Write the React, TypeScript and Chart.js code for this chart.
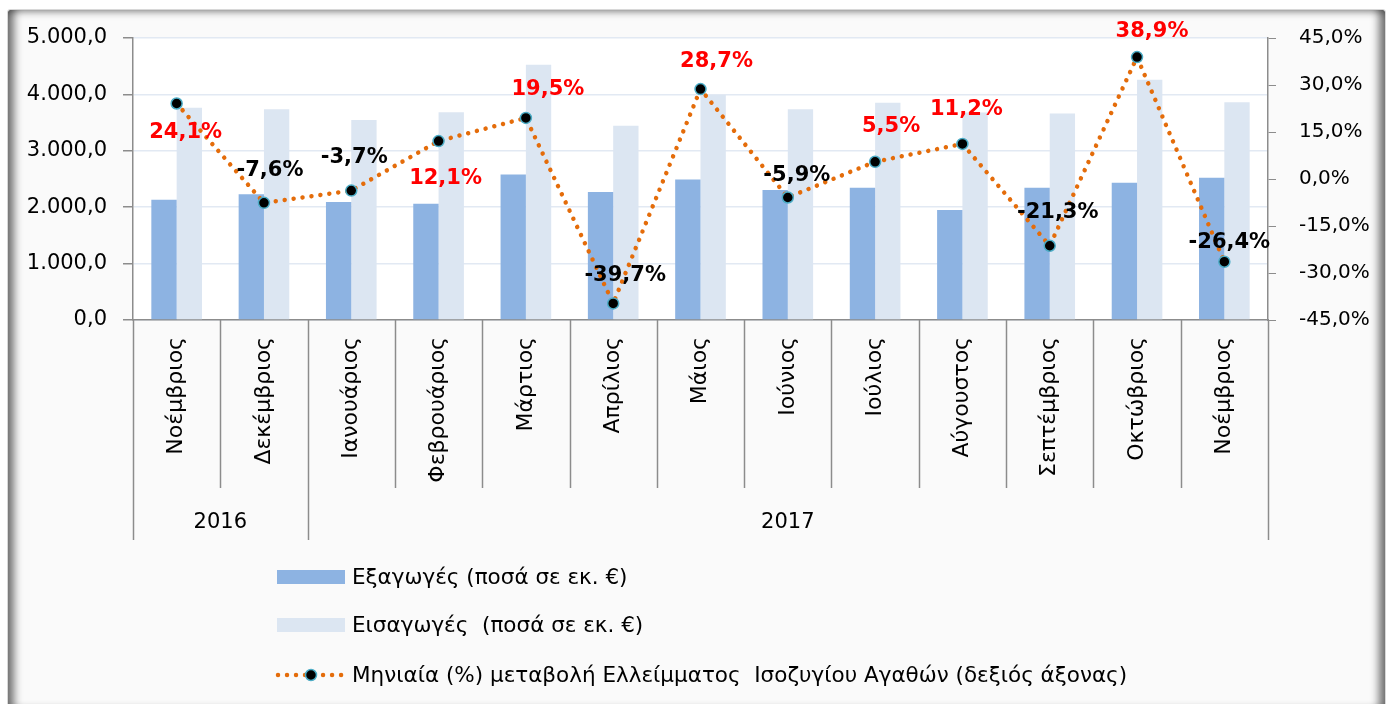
import React, { useEffect, useRef } from "react";
import { Chart, registerables } from "chart.js";

Chart.register(...registerables);

// ---- data ----
const months = [
  "Νοέμβριος", "Δεκέμβριος", "Ιανουάριος", "Φεβρουάριος", "Μάρτιος", "Απρίλιος",
  "Μάιος", "Ιούνιος", "Ιούλιος", "Αύγουστος", "Σεπτέμβριος", "Οκτώβριος", "Νοέμβριος",
];
const yearLabels = ["2016", "2017"];
const yearSpans = [2, 11];
const exportsValues = [2130, 2230, 2090, 2060, 2580, 2270, 2490, 2305, 2345, 1950, 2345, 2435, 2520];
const importsValues = [3765, 3735, 3545, 3685, 4525, 3445, 3990, 3735, 3850, 3680, 3660, 4260, 3860];
const deficitChange = [24.1, -7.6, -3.7, 12.1, 19.5, -39.7, 28.7, -5.9, 5.5, 11.2, -21.3, 38.9, -26.4];
const legendLabels = [
  "Εξαγωγές (ποσά σε εκ. €)",
  "Εισαγωγές  (ποσά σε εκ. €)",
  "Μηνιαία (%) μεταβολή Ελλείμματος  Ισοζυγίου Αγαθών (δεξιός άξονας)",
];

// ---- styles / placement (not data) ----
const FONT = "'DejaVu Sans', sans-serif";
const EXPORT_COLOR = "#8DB3E2";
const IMPORT_COLOR = "#DCE6F2";
const LINE_COLOR = "#E46C0A";
const MARKER_BORDER = "#4BACC6";
const labelOffsets: [number, number][] = [
  [9, 29], [6, -32], [3, -33], [7, 37], [22, -28], [12, -28], [16, -28],
  [9, -22], [16, -35], [4, -34], [8, -33], [15, -26], [5, -19],
];

const fmtLeft = (v: number) => {
  const s = Math.round(v).toString().replace(/\B(?=(\d{3})+(?!\d))/g, ".");
  return s + ",0";
};
const fmtPct = (v: number) => v.toFixed(1).replace(".", ",") + "%";

const plotBg = {
  id: "plotBg",
  beforeDraw(chart: any) {
    const { ctx, chartArea } = chart;
    ctx.save();
    ctx.fillStyle = "#ffffff";
    ctx.fillRect(chartArea.left, chartArea.top, chartArea.right - chartArea.left, chartArea.bottom - chartArea.top);
    ctx.restore();
  },
};

const twoLevelAxis = {
  id: "twoLevelAxis",
  afterDraw(chart: any) {
    const { ctx, chartArea } = chart;
    const x = chart.scales.x;
    const n = months.length;
    const half = (x.getPixelForValue(1) - x.getPixelForValue(0)) / 2;
    const b = chartArea.bottom;
    const innerDepth = 168;
    const outerDepth = 220;
    const groupBounds = new Set<number>([0]);
    let acc = 0;
    yearSpans.forEach((s) => {
      acc += s;
      groupBounds.add(acc);
    });
    ctx.save();
    ctx.strokeStyle = "#8c8c8c";
    ctx.lineWidth = 1.5;
    for (let i = 0; i <= n; i++) {
      const px = Math.round(x.getPixelForValue(i) - half) + 0.5;
      const depth = groupBounds.has(i) ? outerDepth : innerDepth;
      ctx.beginPath();
      ctx.moveTo(px, b);
      ctx.lineTo(px, b + depth);
      ctx.stroke();
    }
    ctx.fillStyle = "#000";
    ctx.font = `21px ${FONT}`;
    ctx.textAlign = "center";
    ctx.textBaseline = "middle";
    let start = 0;
    yearLabels.forEach((lab, k) => {
      const end = start + yearSpans[k];
      const l = x.getPixelForValue(start) - half;
      const r = x.getPixelForValue(end - 1) + half;
      ctx.fillText(lab, (l + r) / 2, b + 203);
      start = end;
    });
    ctx.restore();
  },
};

const dataLabels = {
  id: "dataLabels",
  afterDatasetsDraw(chart: any) {
    const { ctx } = chart;
    const meta = chart.getDatasetMeta(2);
    ctx.save();
    ctx.font = `bold 21px ${FONT}`;
    ctx.textAlign = "center";
    ctx.textBaseline = "middle";
    meta.data.forEach((pt: any, i: number) => {
      const v = deficitChange[i];
      const [dx, dy] = labelOffsets[i];
      ctx.fillStyle = v > 0 ? "#FF0000" : "#000000";
      ctx.fillText(fmtPct(v), pt.x + dx, pt.y + dy);
    });
    ctx.restore();
  },
};

const customLegend = {
  id: "customLegend",
  afterDraw(chart: any) {
    const { ctx } = chart;
    const boxX = 277;
    const boxW = 68;
    const textX = 352;
    const rows = [577, 625, 675];
    ctx.save();
    ctx.fillStyle = EXPORT_COLOR;
    ctx.fillRect(boxX, rows[0] - 7, boxW, 14);
    ctx.fillStyle = IMPORT_COLOR;
    ctx.fillRect(boxX, rows[1] - 7, boxW, 14);
    // line sample
    ctx.strokeStyle = LINE_COLOR;
    ctx.lineWidth = 4.5;
    ctx.lineCap = "round";
    ctx.setLineDash([0.01, 9]);
    ctx.beginPath();
    ctx.moveTo(boxX + 1, rows[2]);
    ctx.lineTo(boxX + boxW, rows[2]);
    ctx.stroke();
    ctx.setLineDash([]);
    ctx.beginPath();
    ctx.arc(boxX + boxW / 2, rows[2], 5.5, 0, Math.PI * 2);
    ctx.fillStyle = "#000";
    ctx.fill();
    ctx.lineWidth = 1.5;
    ctx.strokeStyle = MARKER_BORDER;
    ctx.stroke();
    ctx.fillStyle = "#000";
    ctx.font = `21.5px ${FONT}`;
    ctx.textAlign = "left";
    ctx.textBaseline = "middle";
    legendLabels.forEach((t, i) => ctx.fillText(t, textX, rows[i] + 1));
    ctx.restore();
  },
};

export default function App() {
  const ref = useRef<HTMLCanvasElement | null>(null);
  useEffect(() => {
    if (!ref.current) return;
    const chart = new Chart(ref.current, {
      type: "bar",
      data: {
        labels: months,
        datasets: [
          {
            type: "bar",
            label: legendLabels[0],
            data: exportsValues,
            backgroundColor: EXPORT_COLOR,
            yAxisID: "y",
            order: 1,
            categoryPercentage: 0.58,
            barPercentage: 1,
          },
          {
            type: "bar",
            label: legendLabels[1],
            data: importsValues,
            backgroundColor: IMPORT_COLOR,
            yAxisID: "y",
            order: 1,
            categoryPercentage: 0.58,
            barPercentage: 1,
          },
          {
            type: "line",
            label: legendLabels[2],
            data: deficitChange,
            yAxisID: "y1",
            order: 0,
            borderColor: LINE_COLOR,
            borderWidth: 4.5,
            borderDash: [0.01, 9],
            borderCapStyle: "round",
            tension: 0,
            fill: false,
            pointRadius: 5.5,
            pointBorderWidth: 1.5,
            pointBackgroundColor: "#000",
            pointBorderColor: MARKER_BORDER,
          } as any,
        ],
      },
      options: {
        responsive: false,
        animation: false,
        layout: { padding: { top: 38, left: 0, right: 0, bottom: 0 } },
        plugins: {
          legend: { display: false },
          tooltip: { enabled: false },
        },
        scales: {
          x: {
            offset: true,
            grid: { display: false, drawTicks: false },
            border: { display: true, color: "#8c8c8c", width: 1.5 },
            ticks: {
              autoSkip: false,
              minRotation: 90,
              maxRotation: 90,
              padding: 17,
              color: "#000",
              font: { family: FONT, size: 22 },
            },
            afterFit: (s: any) => {
              s.height = 384;
            },
          },
          y: {
            position: "left",
            min: 0,
            max: 5000,
            ticks: {
              stepSize: 1000,
              color: "#000",
              padding: 16,
              font: { family: FONT, size: 21 },
              callback: (v: any) => fmtLeft(Number(v)),
            },
            grid: { color: "#E2E9F3", lineWidth: 1.5, tickColor: "#8c8c8c", tickLength: 10 },
            border: { display: true, color: "#8c8c8c", width: 1.5 },
            afterFit: (s: any) => {
              s.width = 133;
            },
          },
          y1: {
            position: "right",
            min: -45,
            max: 45,
            ticks: {
              stepSize: 15,
              color: "#000",
              padding: 23,
              font: { family: FONT, size: 20 },
              callback: (v: any) => fmtPct(Number(v)),
            },
            grid: { drawOnChartArea: false, tickColor: "#8c8c8c", tickLength: 8 },
            border: { display: true, color: "#8c8c8c", width: 1.5 },
            afterFit: (s: any) => {
              s.width = 121;
            },
          },
        },
      },
      plugins: [plotBg, twoLevelAxis, dataLabels, customLegend],
    });
    return () => chart.destroy();
  }, []);

  return (
    <div style={{ position: "fixed", left: 0, top: 0, width: 1389, height: 704, background: "#ffffff" }}>
      <div
        style={{
          position: "absolute",
          left: 7,
          top: 9,
          width: 1379,
          height: 700,
          background: "#fafafa",
          borderRadius: 3,
          border: "1px solid #d8d8d8",
          boxSizing: "border-box",
          boxShadow:
            "inset 11px 0 9px -5px rgba(0,0,0,0.55), inset -11px 0 9px -5px rgba(0,0,0,0.55), inset 0 8px 7px -5px rgba(0,0,0,0.3), inset 0 -6px 6px -4px rgba(0,0,0,0.15)",
        }}
      />
      <canvas ref={ref} width={1389} height={704} style={{ position: "absolute", left: 0, top: 0 }} />
    </div>
  );
}
